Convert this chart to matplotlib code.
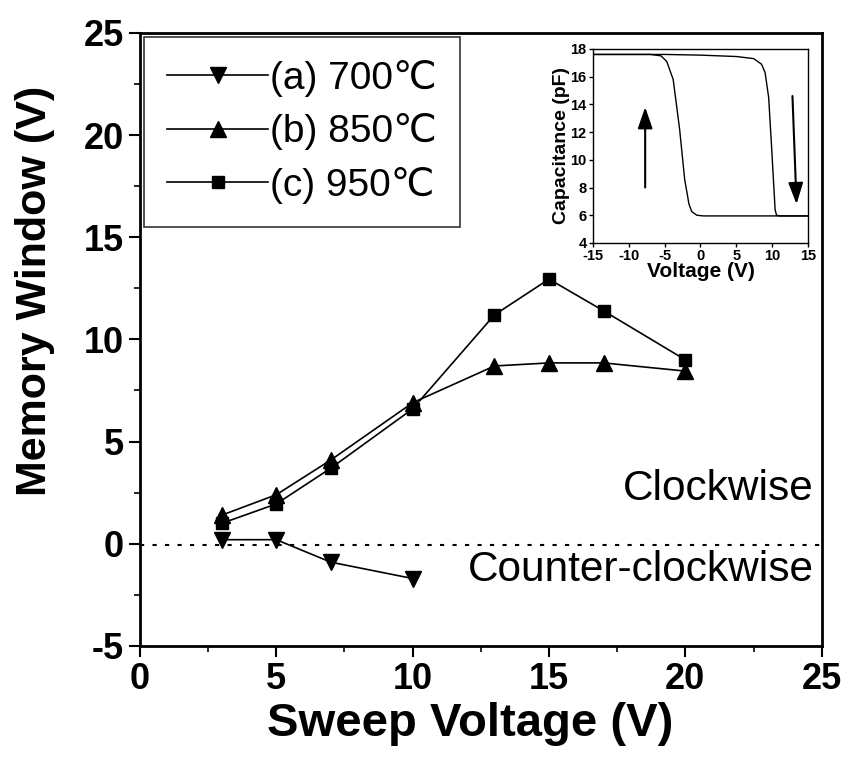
import numpy as np
import matplotlib.pyplot as plt
from matplotlib.ticker import MultipleLocator

plt.rcParams['font.family'] = ['Liberation Sans', 'DejaVu Sans']
plt.rcParams['axes.unicode_minus'] = False

# main data
sweep_a = [3, 5, 7, 10]
mw_a = [0.2, 0.2, -0.9, -1.7]
sweep_bc = [3, 5, 7, 10, 13, 15, 17, 20]
mw_b = [1.4, 2.4, 4.1, 6.9, 8.7, 8.85, 8.85, 8.45]
mw_c = [1.0, 1.95, 3.7, 6.6, 11.2, 12.95, 11.4, 9.0]
labels = ["(a) 700\u2103", "(b) 850\u2103", "(c) 950\u2103"]

# inset C-V hysteresis
cv_up_v = [-15, -10, -7, -5.5, -4.7, -3.8, -2.9, -2.2, -1.6, -1.2, -0.5, 0.4, 5, 10, 15]
cv_up_c = [17.6, 17.6, 17.6, 17.5, 17.1, 15.8, 12.2, 8.6, 6.8, 6.25, 6.0, 5.95, 5.95, 5.95, 5.95]
cv_dn_v = [-15, -5, 0, 5, 7.4, 8.5, 9.0, 9.5, 9.9, 10.4, 10.6, 11, 15]
cv_dn_c = [17.6, 17.6, 17.55, 17.45, 17.3, 16.9, 16.3, 14.5, 11.0, 6.4, 6.0, 5.95, 5.95]

fig = plt.figure(figsize=(8.48, 7.64), dpi=100)
ax = fig.add_axes([0.165, 0.1545, 0.804, 0.8025])

ax.plot(sweep_a, mw_a, color='black', lw=1.2, marker='v', ms=11, label=labels[0])
ax.plot(sweep_bc, mw_b, color='black', lw=1.2, marker='^', ms=11, label=labels[1])
ax.plot(sweep_bc, mw_c, color='black', lw=1.2, marker='s', ms=8.5, label=labels[2])
ax.axhline(-0.08, color='black', ls=(0, (2, 4)), lw=1.5)

ax.set_xlim(0, 25)
ax.set_ylim(-5, 25)
ax.xaxis.set_major_locator(MultipleLocator(5))
ax.yaxis.set_major_locator(MultipleLocator(5))
ax.xaxis.set_minor_locator(MultipleLocator(2.5))
ax.yaxis.set_minor_locator(MultipleLocator(2.5))
ax.tick_params(which='major', direction='out', length=8, width=1.5, labelsize=26)
ax.tick_params(which='minor', direction='out', length=4, width=1.2)
for lab in ax.get_xticklabels() + ax.get_yticklabels():
    lab.set_fontweight('bold')
for s in ax.spines.values():
    s.set_linewidth(2)

ax.set_xlabel("Sweep Voltage (V)", fontsize=34, fontweight='bold')
ax.set_ylabel("Memory Window (V)", fontsize=31, fontweight='bold')
ax.xaxis.set_label_coords(0.484, -0.092)
ax.yaxis.set_label_coords(-0.124, 0.579)

ax.text(24.7, 2.7, "Clockwise", fontsize=30.5, ha='right', va='center')
ax.text(24.7, -1.3, "Counter-clockwise", fontsize=30.5, ha='right', va='center')

leg = ax.legend(loc='upper left', fontsize=28, frameon=True, fancybox=False,
                edgecolor='black', handlelength=2.6, borderaxespad=0.1,
                handletextpad=0.05, labelspacing=0.42, borderpad=0.6)
leg.get_frame().set_linewidth(1.2)

# inset
ins = fig.add_axes([0.699, 0.682, 0.254, 0.254])
ins.plot(cv_up_v, cv_up_c, color='black', lw=1.0)
ins.plot(cv_dn_v, cv_dn_c, color='black', lw=1.0)
ins.annotate("", xy=(-7.7, 14.0), xytext=(-7.7, 7.8),
             arrowprops=dict(arrowstyle='-|>,head_length=1.3,head_width=0.45', color='black', lw=1.5))
ins.annotate("", xy=(13.4, 6.6), xytext=(12.8, 14.8),
             arrowprops=dict(arrowstyle='-|>,head_length=1.3,head_width=0.45', color='black', lw=1.5))
ins.set_xlim(-15, 15)
ins.set_ylim(4, 18)
ins.xaxis.set_major_locator(MultipleLocator(5))
ins.yaxis.set_major_locator(MultipleLocator(2))
ins.tick_params(direction='out', length=3, width=1, labelsize=10.5, pad=1.5)
for lab in ins.get_xticklabels() + ins.get_yticklabels():
    lab.set_fontweight('bold')
ins.set_xlabel("Voltage (V)", fontsize=15, fontweight='bold', labelpad=-1)
ins.set_ylabel("Capacitance (pF)", fontsize=14, fontweight='bold', labelpad=0)
for s in ins.spines.values():
    s.set_linewidth(1)

fig.savefig("out.png", dpi=100)
